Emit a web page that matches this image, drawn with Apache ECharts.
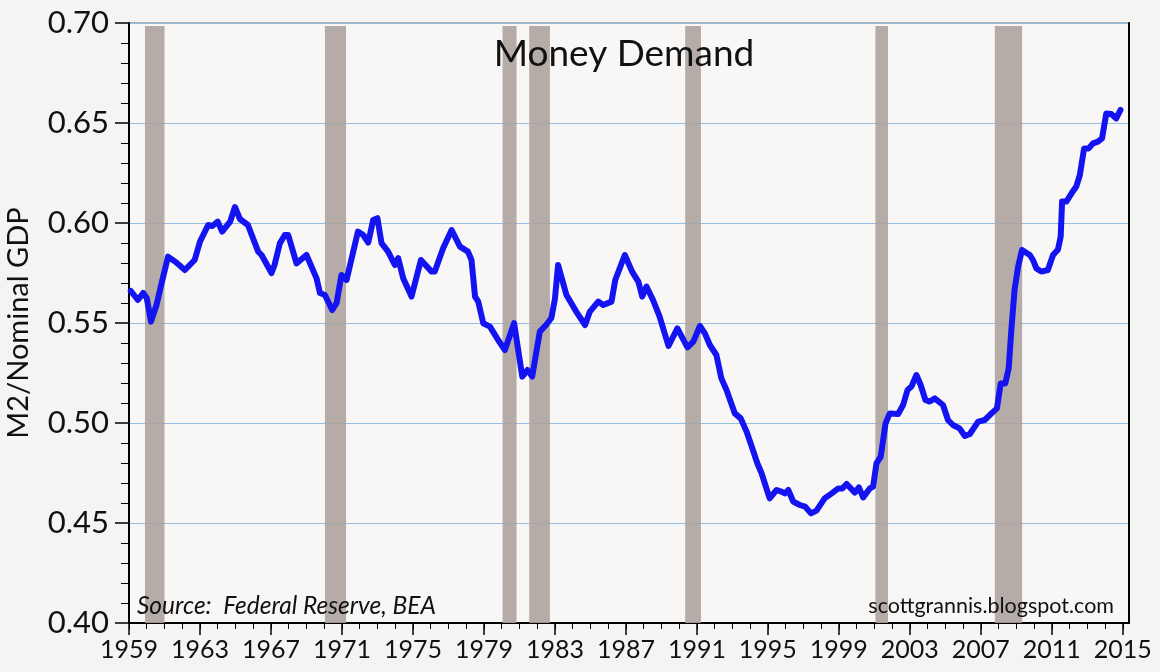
<!DOCTYPE html>
<html>
<head>
    <meta charset="utf-8">
    <title>Money Demand</title>
    <script src="https://cdn.jsdelivr.net/npm/echarts@6/dist/echarts.min.js"></script>
    <style>
        html, body { margin: 0; padding: 0; background: #f4f4f3; }
        #chart { width: 1160px; height: 672px; }
    </style>
</head>
<body>
<div id="chart"></div>
<script>
    // M2 / nominal GDP (year as decimal)
    var years = [
        1959.1, 1959.5, 1959.8, 1960.0, 1960.24, 1960.55, 1960.84, 1961.2, 1961.6, 1962.15,
        1962.7, 1963.0, 1963.46, 1963.7, 1964.0, 1964.25, 1964.7, 1964.97, 1965.25, 1965.7,
        1966.28, 1966.47, 1967.03, 1967.2, 1967.5, 1967.78, 1967.97, 1968.44, 1969.0, 1969.57,
        1969.76, 1970.04, 1970.45, 1970.7, 1970.97, 1971.26, 1971.9, 1972.2, 1972.48, 1972.76,
        1973.0, 1973.23, 1973.6, 1973.98, 1974.17, 1974.45, 1974.92, 1975.45, 1976.05, 1976.23,
        1976.7, 1977.18, 1977.65, 1978.1, 1978.3, 1978.5, 1978.68, 1978.96, 1979.34, 1979.8,
        1980.18, 1980.7, 1981.16, 1981.45, 1981.72, 1982.15, 1982.5, 1982.8, 1983.0, 1983.18,
        1983.65, 1984.2, 1984.7, 1984.97, 1985.44, 1985.72, 1986.19, 1986.4, 1986.94, 1987.35,
        1987.7, 1987.92, 1988.16, 1988.53, 1988.9, 1989.4, 1989.9, 1990.47, 1990.8, 1991.17,
        1991.45, 1991.73, 1992.1, 1992.38, 1992.67, 1993.14, 1993.47, 1993.8, 1994.1, 1994.4,
        1994.64, 1995.1, 1995.49, 1995.76, 1995.96, 1996.15, 1996.43, 1996.8, 1997.1, 1997.43,
        1997.74, 1998.2, 1998.6, 1998.97, 1999.2, 1999.44, 1999.9, 2000.13, 2000.37, 2000.75,
        2000.93, 2001.12, 2001.36, 2001.63, 2001.87, 2002.34, 2002.62, 2002.87, 2003.09, 2003.37,
        2003.61, 2003.88, 2004.12, 2004.4, 2004.87, 2005.15, 2005.43, 2005.8, 2006.1, 2006.38,
        2006.85, 2007.22, 2007.6, 2007.91, 2008.12, 2008.38, 2008.57, 2008.72, 2008.9, 2009.1,
        2009.32, 2009.76, 2009.94, 2010.13, 2010.41, 2010.78, 2011.07, 2011.35, 2011.5, 2011.58,
        2011.82, 2012.14, 2012.38, 2012.58, 2012.82, 2013.08, 2013.32, 2013.6, 2013.83, 2014.07,
        2014.35, 2014.63, 2014.87
    ];
    var m2gdp = [
        0.566, 0.5615, 0.565, 0.5625, 0.5507, 0.559, 0.570, 0.5832, 0.5807, 0.5765,
        0.5815, 0.5907, 0.599, 0.5985, 0.6007, 0.5957, 0.6007, 0.608, 0.602, 0.599,
        0.5857, 0.584, 0.575, 0.579, 0.5898, 0.594, 0.594, 0.5798, 0.584, 0.5723,
        0.565, 0.564, 0.5565, 0.560, 0.574, 0.5715, 0.5957, 0.594, 0.5902, 0.6015,
        0.6024, 0.5899, 0.5857, 0.579, 0.5824, 0.5724, 0.5632, 0.5815, 0.5757, 0.5757,
        0.5874, 0.5965, 0.5882, 0.5857, 0.5815, 0.5632, 0.5607, 0.5499, 0.5482, 0.5415,
        0.5365, 0.5499, 0.5232, 0.5265, 0.5232, 0.5457, 0.549, 0.5525, 0.562, 0.579,
        0.564, 0.5557, 0.549, 0.5557, 0.5607, 0.559, 0.5607, 0.5715, 0.584, 0.5757,
        0.5707, 0.5632, 0.5682, 0.5615, 0.5532, 0.5385, 0.5473, 0.5378, 0.5407, 0.5485,
        0.5448, 0.539, 0.534, 0.5223, 0.5165, 0.5048, 0.5023, 0.4957, 0.488, 0.480,
        0.475, 0.4623, 0.4665, 0.4657, 0.4648, 0.4665, 0.4607, 0.459, 0.4582, 0.4548,
        0.4562, 0.4623, 0.4648, 0.4673, 0.4673, 0.4695, 0.4652, 0.4678, 0.4628, 0.4673,
        0.4682, 0.4798, 0.4832, 0.4998, 0.5048, 0.5045, 0.509, 0.5165, 0.5182, 0.524,
        0.519, 0.5115, 0.5107, 0.5123, 0.509, 0.5015, 0.499, 0.4973, 0.4935, 0.4945,
        0.5007, 0.5015, 0.5048, 0.5073, 0.5198, 0.5198, 0.5273, 0.5465, 0.5665, 0.5782,
        0.5865, 0.584, 0.5815, 0.5773, 0.5757, 0.5765, 0.584, 0.5868, 0.5932, 0.6107,
        0.6107, 0.6152, 0.6182, 0.624, 0.6373, 0.6373, 0.6398, 0.6407, 0.6423, 0.6548,
        0.6545, 0.6523, 0.6565
    ];

    // recession bands
    var recStart = [1959.9, 1970.04, 1980.05, 1981.55, 1990.34, 2001.06, 2007.79];
    var recEnd   = [1961.0, 1971.23, 1980.84, 1982.72, 1991.23, 2001.77, 2009.33];

    // axis ticks
    var yearLabels = [1959, 1963, 1967, 1971, 1975, 1979, 1983, 1987, 1991, 1995, 1999, 2003, 2007, 2011, 2015];
    var yearMinor = [];
    for (var y = 1959; y <= 2015; y++) yearMinor.push(y);

    var font = 'Lato';

    var points = years.map(function (t, i) { return [t, m2gdp[i]]; });
    var bands = recStart.map(function (s, i) {
        return [{xAxis: s, yAxis: 0.4}, {xAxis: recEnd[i], yAxis: 0.6985}];
    });

    var myChart = echarts.init(document.getElementById('chart'));
    myChart.setOption({
        backgroundColor: '#f4f4f3',
        animation: false,
        grid: {
            left: 129, right: 31, top: 23, bottom: 49,
            outerBoundsMode: 'none',
            show: true,
            backgroundColor: '#f8f7f5',
            borderColor: '#6a6a6a',
            borderWidth: 1
        },
        graphic: [
            {
                type: 'text', x: 624, y: 36, z: 100,
                style: {text: 'Money Demand', textAlign: 'center', textVerticalAlign: 'top',
                    fontSize: 37, fontFamily: font, fill: '#111'}
            },
            {
                type: 'text', x: 137, y: 606, z: 100,
                style: {text: 'Source:  Federal Reserve, BEA', textAlign: 'left', textVerticalAlign: 'middle',
                    fontSize: 24.5, fontStyle: 'italic', fontFamily: font, fill: '#111'}
            },
            {
                type: 'text', x: 1114, y: 606, z: 100,
                style: {text: 'scottgrannis.blogspot.com', textAlign: 'right', textVerticalAlign: 'middle',
                    fontSize: 21.5, fontFamily: font, fill: '#111'}
            }
        ],
        xAxis: [
            {
                type: 'value', min: 1959, max: 2015.35, position: 'bottom',
                axisLine: {show: true, lineStyle: {color: '#000', width: 2}},
                axisTick: {show: true, customValues: yearLabels, length: 12, lineStyle: {color: '#000', width: 1.5}},
                axisLabel: {show: true, customValues: yearLabels, margin: 14, fontSize: 25, fontFamily: font, color: '#111',
                    formatter: function (v) { return String(v); }},
                splitLine: {show: false}
            },
            {
                type: 'value', min: 1959, max: 2015.35, position: 'bottom',
                axisLine: {show: false},
                axisTick: {show: true, customValues: yearMinor, length: 6, lineStyle: {color: '#000', width: 1}},
                axisLabel: {show: false},
                splitLine: {show: false}
            }
        ],
        yAxis: [
            {
                type: 'value', min: 0.40, max: 0.70, interval: 0.05,
                name: 'M2/Nominal GDP', nameLocation: 'middle', nameGap: 96,
                nameTextStyle: {fontSize: 29, fontFamily: font, color: '#111'},
                axisLine: {show: true, lineStyle: {color: '#000', width: 2}},
                axisTick: {show: true, length: 14, lineStyle: {color: '#000', width: 1.5}},
                minorTick: {show: true, splitNumber: 5, length: 8, lineStyle: {color: '#000', width: 1}},
                axisLabel: {margin: 20, fontSize: 31, fontFamily: font, color: '#111',
                    formatter: function (v) { return v.toFixed(2); }},
                splitLine: {show: true, lineStyle: {color: '#93c0e6', width: 1}}
            },
            {
                type: 'value', min: 0.40, max: 0.70, position: 'right',
                axisLine: {show: true, lineStyle: {color: '#000', width: 2}},
                axisTick: {show: false}, axisLabel: {show: false}, splitLine: {show: false}
            }
        ],
        series: [{
            name: 'M2/Nominal GDP',
            type: 'line',
            xAxisIndex: 0,
            yAxisIndex: 0,
            data: points,
            showSymbol: false,
            lineStyle: {color: '#1414f2', width: 6, join: 'round', cap: 'round'},
            markArea: {
                silent: true,
                itemStyle: {color: 'rgba(172,162,156,0.88)'},
                data: bands
            }
        }]
    });
</script>
</body>
</html>
